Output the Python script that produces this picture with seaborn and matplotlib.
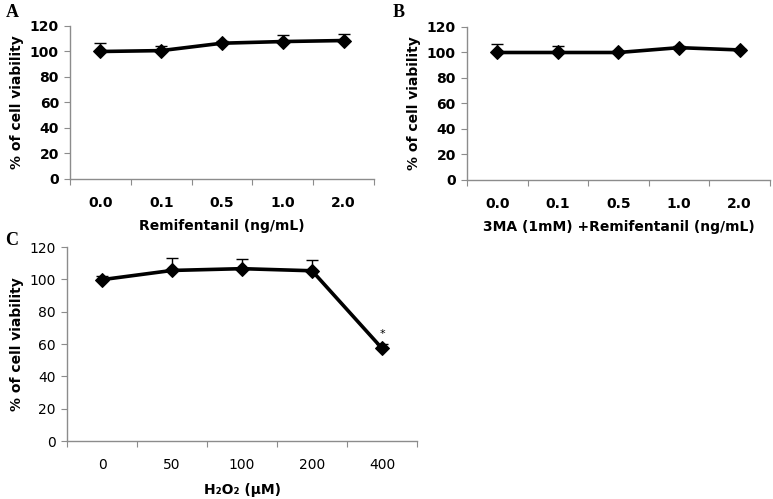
import numpy as np
import pandas as pd
import matplotlib
matplotlib.use("Agg")
import matplotlib.pyplot as plt
import seaborn as sns

# ---- data ----
a_labels = ["0.0", "0.1", "0.5", "1.0", "2.0"]
a_values = [100, 100.7, 106.5, 107.8, 108.6]
a_err = [7, 3.5, 2, 5, 5]

b_labels = ["0.0", "0.1", "0.5", "1.0", "2.0"]
b_values = [100, 100, 100, 103.8, 102]
b_err = [7, 5, 1, 1, 1]

c_labels = ["0", "50", "100", "200", "400"]
c_values = [99.8, 105.5, 106.6, 105.3, 57.3]
c_err = [2, 7.5, 6, 6.5, 3]

y_ticks = [0, 20, 40, 60, 80, 100, 120]

sns.set_theme(style="white")
plt.rcParams["font.family"] = ["DejaVu Sans"]
plt.rcParams["text.color"] = "black"
plt.rcParams["axes.labelcolor"] = "black"
plt.rcParams["xtick.color"] = "black"
plt.rcParams["ytick.color"] = "black"

fig = plt.figure(figsize=(7.73, 4.99), dpi=100)

SPINE = "#8c8c8c"


def panel(rect, labels, values, err, xlabel, letter, letter_xy, bold_ticks=True,
          star=None, xpad=12, labelpad=7):
    ax = fig.add_axes(rect)
    n = len(labels)
    df = pd.DataFrame({"pos": np.arange(n), "val": values})
    ax.errorbar(df["pos"], df["val"], yerr=[np.zeros(n), err], fmt="none",
                ecolor="black", elinewidth=1.0, capsize=4, capthick=1.0, zorder=2)
    sns.lineplot(data=df, x="pos", y="val", ax=ax, color="black", linewidth=2.6,
                 marker="D", markersize=7.5, markeredgecolor="black",
                 markerfacecolor="black", sort=False, zorder=3)
    ax.set_xlim(-0.5, n - 0.5)
    ax.set_ylim(0, 120)
    ax.set_yticks(y_ticks)
    ax.set_xticks(np.arange(n))
    fw = "bold" if bold_ticks else "normal"
    ax.set_xticklabels(labels, fontsize=10, fontweight=fw, color="black")
    ax.set_yticklabels([str(t) for t in y_ticks], fontsize=10, fontweight=fw, color="black")
    ax.set_xticks(np.arange(n + 1) - 0.5, minor=True)
    ax.tick_params(axis="x", which="major", length=0, pad=xpad)
    ax.tick_params(axis="x", which="minor", length=4, width=0.8, color=SPINE, direction="out", bottom=True)
    ax.tick_params(axis="y", which="major", length=4, width=0.8, color=SPINE, direction="out", left=True, pad=4)
    for s in ["top", "right"]:
        ax.spines[s].set_visible(False)
    for s in ["left", "bottom"]:
        ax.spines[s].set_color(SPINE)
        ax.spines[s].set_linewidth(1.0)
    ax.set_xlabel(xlabel, fontsize=10, fontweight="bold", labelpad=labelpad, color="black")
    ax.set_ylabel("% of cell viability", fontsize=10, fontweight="bold", labelpad=4, color="black")
    fig.text(letter_xy[0], letter_xy[1], letter, fontsize=13, fontweight="bold",
             family="Liberation Serif", ha="left", va="top", color="black")
    if star is not None:
        ax.text(star[0], star[1], "*", fontsize=8, ha="center", va="center", color="black")
    return ax


panel([0.0906, 0.6413, 0.3932, 0.3066], a_labels, a_values, a_err,
      "Remifentanil (ng/mL)", "A", (0.008, 0.992))
panel([0.6041, 0.6393, 0.3920, 0.3066], b_labels, b_values, b_err,
      "3MA (1mM) +Remifentanil (ng/mL)", "B", (0.508, 0.992))
panel([0.0867, 0.1162, 0.4528, 0.3888], c_labels, c_values, c_err,
      "H₂O₂ (μM)", "C", (0.006, 0.535), bold_ticks=False, star=(4, 66),
      xpad=12, labelpad=8)

fig.savefig("out.png", dpi=100)
